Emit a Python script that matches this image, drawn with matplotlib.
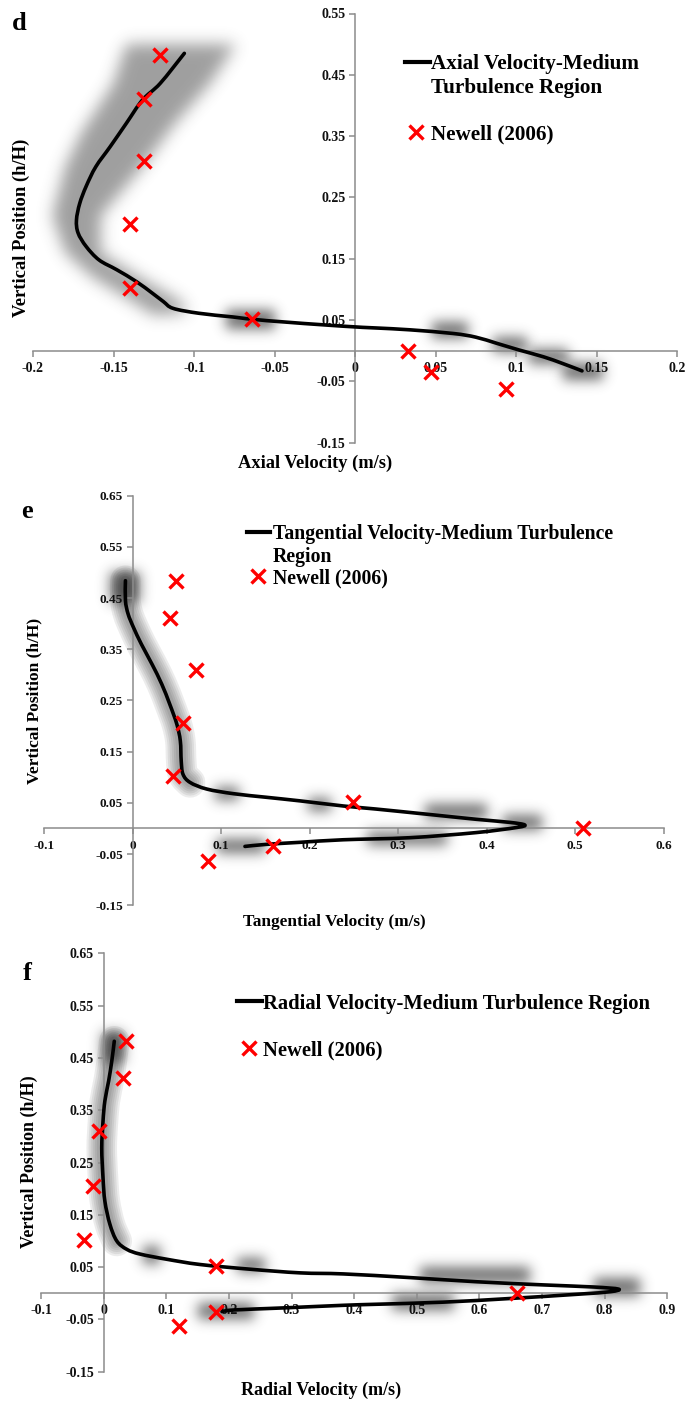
import numpy as np
import matplotlib
matplotlib.use("Agg")
import matplotlib.pyplot as plt
from matplotlib.lines import Line2D
from matplotlib.patches import Polygon, Rectangle, PathPatch
from matplotlib.path import Path

plt.rcParams["font.family"] = ["Liberation Serif", "DejaVu Serif"]
plt.rcParams["font.weight"] = "bold"

# ---- Newell (2006) measurements, shared heights ----
newell_h = [0.483, 0.411, 0.310, 0.206, 0.102, 0.052, 0.0, -0.035, -0.063]
newell_axial = [-0.121, -0.131, -0.131, -0.140, -0.140, -0.064, 0.033, 0.047, 0.094]
newell_tang = [0.049, 0.042, 0.072, 0.057, 0.046, 0.249, 0.509, 0.159, 0.085]
newell_radial = [0.035, 0.031, -0.007, -0.017, -0.032, 0.180, 0.660, 0.180, 0.120]

# ---- simulated profiles, medium turbulence region ----
axial_v = [-0.106, -0.121, -0.132, -0.142, -0.152, -0.161, -0.167, -0.171, -0.173, -0.172,
           -0.167, -0.159, -0.148, -0.136, -0.126, -0.119, -0.113, -0.097, -0.076, -0.055,
           -0.008, 0.013, 0.034, 0.061, 0.075, 0.088, 0.102, 0.117, 0.129, 0.141]
axial_h = [0.485, 0.436, 0.409, 0.371, 0.333, 0.300, 0.268, 0.240, 0.213, 0.192,
           0.170, 0.148, 0.132, 0.113, 0.094, 0.080, 0.069, 0.061, 0.055, 0.049,
           0.040, 0.037, 0.034, 0.028, 0.022, 0.012, 0.001, -0.010, -0.021, -0.033]

tang_v = [-0.008, -0.008, -0.005, 0.001, 0.010, 0.022, 0.033, 0.042, 0.050, 0.054,
          0.055, 0.057, 0.065, 0.084, 0.114, 0.151, 0.189, 0.238, 0.275, 0.332,
          0.388, 0.426, 0.443, 0.434, 0.388, 0.313, 0.238, 0.189, 0.151, 0.127]
tang_h = [0.484, 0.445, 0.419, 0.393, 0.360, 0.321, 0.282, 0.243, 0.204, 0.171,
          0.132, 0.106, 0.090, 0.077, 0.068, 0.061, 0.054, 0.044, 0.038, 0.028,
          0.018, 0.012, 0.007, 0.002, -0.008, -0.018, -0.022, -0.027, -0.031, -0.035]

radial_v = [0.017, 0.013, 0.008, 0.002, -0.001, -0.003, -0.001, 0.002, 0.010, 0.021,
            0.037, 0.058, 0.101, 0.154, 0.234, 0.314, 0.383, 0.489, 0.596, 0.702,
            0.782, 0.822, 0.809, 0.755, 0.649, 0.542, 0.436, 0.383, 0.287, 0.207, 0.189]
radial_h = [0.482, 0.444, 0.406, 0.368, 0.329, 0.278, 0.221, 0.176, 0.132, 0.100,
            0.084, 0.075, 0.065, 0.055, 0.046, 0.039, 0.037, 0.030, 0.022, 0.016,
            0.012, 0.008, 0.003, -0.002, -0.010, -0.017, -0.021, -0.023, -0.028, -0.032, -0.035]

d_xticks = [-0.2, -0.15, -0.1, -0.05, 0, 0.05, 0.1, 0.15, 0.2]
d_xlabels = ["-0.2", "-0.15", "-0.1", "-0.05", "0", "0.05", "0.1", "0.15", "0.2"]
d_yticks = [-0.15, -0.05, 0.05, 0.15, 0.25, 0.35, 0.45, 0.55]
d_ylabels = ["-0.15", "-0.05", "0.05", "0.15", "0.25", "0.35", "0.45", "0.55"]
ef_yticks = [-0.15, -0.05, 0.05, 0.15, 0.25, 0.35, 0.45, 0.55, 0.65]
ef_ylabels = ["-0.15", "-0.05", "0.05", "0.15", "0.25", "0.35", "0.45", "0.55", "0.65"]
e_xticks = [-0.1, 0, 0.1, 0.2, 0.3, 0.4, 0.5, 0.6]
e_xlabels = ["-0.1", "0", "0.1", "0.2", "0.3", "0.4", "0.5", "0.6"]
f_xticks = [-0.1, 0, 0.1, 0.2, 0.3, 0.4, 0.5, 0.6, 0.7, 0.8, 0.9]
f_xlabels = ["-0.1", "0", "0.1", "0.2", "0.3", "0.4", "0.5", "0.6", "0.7", "0.8", "0.9"]

W, H = 686, 1402
AXIS_GRAY = "#8c8c8c"
RED = "#ff0000"


class SoftShadow:
    """agg filter: gaussian-blurred gray copy of the artist's alpha."""
    def __init__(self, sigma, alpha, gray=0.25):
        self.sigma, self.alpha, self.gray = sigma, alpha, gray

    def __call__(self, im, dpi):
        s = self.sigma * dpi / 72.0
        pad = int(3 * s) + 1
        a = np.pad(im[..., 3], pad)
        k = np.exp(-0.5 * (np.arange(-pad, pad + 1) / s) ** 2)
        k /= k.sum()
        a = np.apply_along_axis(np.convolve, 0, a, k, "same")
        a = np.apply_along_axis(np.convolve, 1, a, k, "same")
        out = np.empty(a.shape + (4,), dtype=im.dtype)
        out[..., :3] = self.gray
        out[..., 3] = np.clip(a * self.alpha, 0, 1)
        return out, -pad, -pad


def smooth_path(v, h):
    # Catmull-Rom through the points, written as cubic Bezier segments
    p = np.column_stack([v, h]).astype(float)
    n = len(p)
    verts, codes = [p[0]], [Path.MOVETO]
    for i in range(n - 1):
        p0 = p[i - 1] if i > 0 else p[i]
        p3 = p[i + 2] if i + 2 < n else p[i + 1]
        verts += [p[i] + (p[i + 1] - p0) / 6, p[i + 1] - (p3 - p[i]) / 6, p[i + 1]]
        codes += [Path.CURVE4] * 3
    return Path(verts, codes)


def fx(x):
    return x / W


def fy(y):
    return 1 - y / H


def add_panel(fig, px_box, xlim, ylim, xticks, xlabels, yticks, ylabels, tick_fs):
    left, right, top, bottom = px_box
    ax = fig.add_axes([fx(left), fy(bottom), (right - left) / W, (bottom - top) / H])
    ax.set_xlim(*xlim)
    ax.set_ylim(*ylim)
    ax.patch.set_visible(False)
    for s in ("top", "right"):
        ax.spines[s].set_visible(False)
    ax.spines["left"].set_position(("data", 0))
    ax.spines["bottom"].set_position(("data", 0))
    for s in ("left", "bottom"):
        ax.spines[s].set_color(AXIS_GRAY)
        ax.spines[s].set_linewidth(1.1)
    ax.set_xticks(xticks)
    ax.set_xticklabels(xlabels)
    ax.set_yticks(yticks)
    ax.set_yticklabels(ylabels)
    ax.tick_params(direction="out", length=4, width=1.1, color=AXIS_GRAY,
                   labelsize=tick_fs, labelcolor="#111111")
    ax.tick_params(axis="x", pad=4)
    ax.tick_params(axis="y", pad=3)
    return ax


def add_shadow(ax, curve_v, curve_h, band=None, blobs=(), h_min=None):
    band_flt = SoftShadow(sigma=5.5, alpha=0.5)
    blob_flt = SoftShadow(sigma=4.5, alpha=0.75)
    if band is not None:
        pg = Polygon(band, closed=True, fc="k", ec="none", zorder=1)
        ax.add_patch(pg)
        pg.set_agg_filter(band_flt)
    for x0, x1, y0, y1 in blobs:
        r = Rectangle((x0, y0), x1 - x0, y1 - y0, fc="k", ec="none", zorder=1)
        ax.add_patch(r)
        r.set_agg_filter(blob_flt)
    if h_min is not None:
        # soft glow along the upper part of the profile: stacked translucent strokes
        vv = [v for v, h in zip(curve_v, curve_h) if h >= h_min]
        hh = [h for h in curve_h if h >= h_min]
        glow = smooth_path(vv, hh)
        for lw in (22, 19, 16, 13, 10, 7):
            ax.add_patch(PathPatch(glow, fill=False, ec="#2a2a2a", lw=lw, alpha=0.085,
                                   capstyle="round", joinstyle="round", zorder=1))


def draw_series(ax, v, h, nv):
    ax.add_patch(PathPatch(smooth_path(v, h), fill=False, ec="black", lw=2.6,
                           capstyle="round", joinstyle="round", zorder=3))
    ax.plot(nv, newell_h, ls="none", marker="x", ms=10, mew=2.4, color=RED, zorder=4)


def legend(fig, line_y, label_lines, marker_y, x_line, x_text, fs, spacing):
    fig.add_artist(Line2D([fx(x_line[0]), fx(x_line[1])], [fy(line_y), fy(line_y)],
                          color="black", lw=3, transform=fig.transFigure))
    for i, t in enumerate(label_lines):
        fig.text(fx(x_text), fy(line_y + i * spacing), t, fontsize=fs,
                 ha="left", va="center_baseline")
    mx = (x_line[0] + x_line[1]) / 2 - 1
    fig.add_artist(Line2D([fx(mx)], [fy(marker_y)], ls="none", marker="x", ms=9.5,
                          mew=2.4, color=RED, transform=fig.transFigure))
    fig.text(fx(x_text), fy(marker_y), "Newell (2006)", fontsize=fs,
             ha="left", va="center_baseline")


fig = plt.figure(figsize=(W / 100, H / 100), dpi=100)

# ---- d: axial ----
ax_d = add_panel(fig, (33, 677, 13.5, 442.6), (-0.2, 0.2), (-0.15, 0.55),
                 d_xticks, d_xlabels, d_yticks, d_ylabels, 10)
d_band = [(-0.074, 0.50), (-0.09, 0.436), (-0.112, 0.37), (-0.132, 0.30), (-0.158, 0.22),
          (-0.158, 0.16), (-0.134, 0.12), (-0.108, 0.08), (-0.104, 0.062), (-0.125, 0.058),
          (-0.138, 0.08), (-0.163, 0.12), (-0.18, 0.16), (-0.188, 0.22), (-0.18, 0.30),
          (-0.17, 0.355), (-0.15, 0.436), (-0.142, 0.50)]
d_blobs = [(-0.08, -0.05, 0.036, 0.066), (0.048, 0.07, 0.02, 0.047), (0.086, 0.107, -0.002, 0.022),
           (0.108, 0.132, -0.022, 0.002), (0.129, 0.154, -0.048, -0.02)]
add_shadow(ax_d, axial_v, axial_h, band=d_band, blobs=d_blobs)
draw_series(ax_d, axial_v, axial_h, newell_axial)
fig.text(fx(12), fy(24), "d", fontsize=19, ha="left", va="center")
fig.text(fx(21), fy(228), "Vertical Position (h/H)", fontsize=13.4, rotation=90,
         ha="center", va="center")
fig.text(fx(315), fy(463), "Axial Velocity (m/s)", fontsize=13.3, ha="center", va="center")
legend(fig, 62, ["Axial Velocity-Medium", "Turbulence Region"], 132, (405, 430), 431, 15.2, 24)

# ---- e: tangential ----
ax_e = add_panel(fig, (44, 663.7, 495.7, 905.3), (-0.1, 0.6), (-0.15, 0.65),
                 e_xticks, e_xlabels, ef_yticks, ef_ylabels, 9.5)
e_blobs = [(-0.026, 0.008, 0.44, 0.5), (0.093, 0.12, 0.056, 0.082), (0.198, 0.224, 0.035, 0.059),
           (0.33, 0.40, 0.018, 0.047), (0.418, 0.462, -0.002, 0.027), (0.265, 0.355, -0.032, -0.006),
           (0.095, 0.15, -0.047, -0.02)]
add_shadow(ax_e, tang_v, tang_h, blobs=e_blobs, h_min=0.09)
draw_series(ax_e, tang_v, tang_h, newell_tang)
fig.text(fx(21), fy(511), "e", fontsize=19, ha="left", va="center")
fig.text(fx(34), fy(701), "Vertical Position (h/H)", fontsize=12.5, rotation=90,
         ha="center", va="center")
fig.text(fx(334), fy(922), "Tangential Velocity (m/s)", fontsize=12.4, ha="center", va="center")
legend(fig, 531.5, ["Tangential Velocity-Medium Turbulence", "Region"], 576,
       (247, 270), 273, 14.2, 22.5)

# ---- f: radial ----
ax_f = add_panel(fig, (41, 667.3, 953.4, 1371.7), (-0.1, 0.9), (-0.15, 0.65),
                 f_xticks, f_xlabels, ef_yticks, ef_ylabels, 10)
f_blobs = [(-0.002, 0.032, 0.44, 0.5), (0.063, 0.09, 0.056, 0.09), (0.213, 0.257, 0.04, 0.067),
           (0.505, 0.68, 0.02, 0.05), (0.783, 0.857, -0.005, 0.03), (0.46, 0.56, -0.032, -0.001),
           (0.15, 0.24, -0.05, -0.018)]
add_shadow(ax_f, radial_v, radial_h, blobs=f_blobs, h_min=0.09)
draw_series(ax_f, radial_v, radial_h, newell_radial)
fig.text(fx(23), fy(973), "f", fontsize=19, ha="left", va="center")
fig.text(fx(29), fy(1162), "Vertical Position (h/H)", fontsize=13, rotation=90,
         ha="center", va="center")
fig.text(fx(321), fy(1390), "Radial Velocity (m/s)", fontsize=13, ha="center", va="center")
legend(fig, 1001, ["Radial Velocity-Medium Turbulence Region"], 1048, (237, 262), 263, 14.9, 24)

fig.savefig("out.png", dpi=100)
